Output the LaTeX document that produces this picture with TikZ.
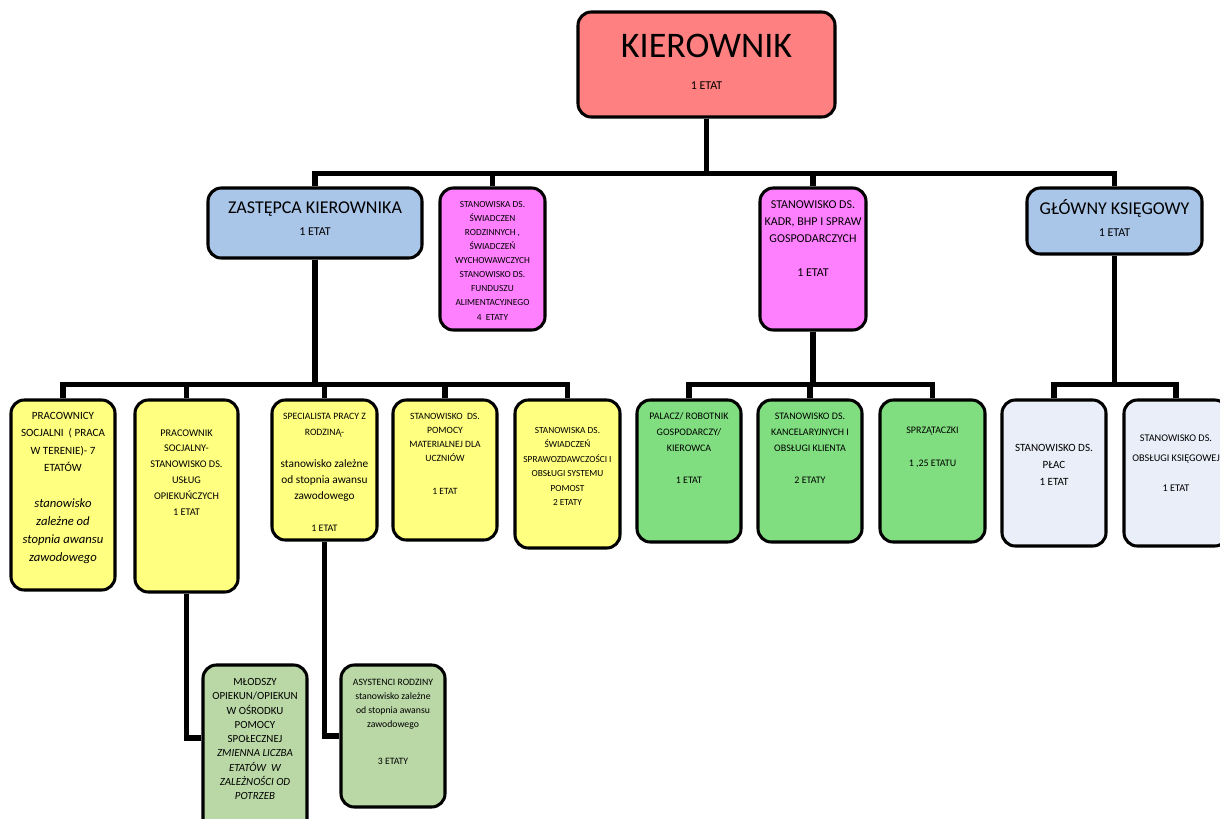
\documentclass[tikz,border=0pt]{standalone}
\usepackage{fontspec}
\setmainfont{Carlito}
\usepackage{tikz}

\definecolor{kierred}{RGB}{255,128,128}
\definecolor{boxblue}{RGB}{169,197,232}
\definecolor{boxpink}{RGB}{255,128,255}
\definecolor{boxyellow}{RGB}{255,255,128}
\definecolor{boxgreen}{RGB}{128,222,128}
\definecolor{boxgrey}{RGB}{234,238,248}
\definecolor{boxolive}{RGB}{186,216,166}

\newcommand\setfs[2]{\fontsize{#1}{#2}\selectfont}
\newcommand\orgcell[4]{\parbox[c][\dimexpr#2pt*3/4\relax][t]{\dimexpr#1pt*3/4\relax}{\centering\vspace*{\dimexpr#3pt*3/4\relax}#4\par}}

\begin{document}
\begin{tikzpicture}[x=0.75pt,y=-0.75pt,
    box/.style={draw=black,line width=2.3pt,rounded corners=10pt,inner sep=0pt},
    conn/.style={line width=4pt}]
\useasboundingbox (0,0) rectangle (1220,818);
\clip (0,0) rectangle (1220,818);

\node[box,fill=kierred] (kier) at (706.5,64.5) {\orgcell{257}{105}{22}{{\setfs{27}{30}KIEROWNIK\par}{\setfs{9}{24.2}1 ETAT\par}}};

\node[box,fill=boxblue] (zast) at (315,223) {\orgcell{214}{70}{14}{{\setfs{13.5}{16}ZASTĘPCA KIEROWNIKA\par}{\setfs{9}{16.5}1 ETAT\par}}};
\node[box,fill=boxpink] (swiad) at (492.5,259) {\orgcell{105}{142}{13}{\setfs{7}{10.6}STANOWISKA DS.\\ ŚWIADCZEN\\ RODZINNYCH ,\\ ŚWIADCZEŃ\\ WYCHOWAWCZYCH\\ STANOWISKO DS.\\ FUNDUSZU\\ ALIMENTACYJNEGO\\ 4\ \ ETATY}};
\node[box,fill=boxpink] (kadr) at (813,259) {\orgcell{106}{142}{13}{\setfs{9}{12.75}STANOWISKO DS.\\ KADR, BHP I SPRAW\\ GOSPODARCZYCH\\[12.75pt] 1 ETAT}};
\node[box,fill=boxblue] (ksieg) at (1114.5,221) {\orgcell{175}{66}{11}{{\setfs{13.5}{16}GŁÓWNY KSIĘGOWY\par}{\setfs{9}{16.5}1 ETAT\par}}};

\node[box,fill=boxyellow] (prac) at (63,495) {\orgcell{104}{190}{12}{{\setfs{8.3}{13.1}PRACOWNICY\\ SOCJALNI\ \ ( PRACA\\ W TERENIE)- 7\\ ETATÓW\par}\vspace{13.5pt}{\itshape\setfs{9.5}{13.5}stanowisko\\ zależne od\\ stopnia awansu\\ zawodowego\par}}};
\node[box,fill=boxyellow] (opiek) at (186.5,496) {\orgcell{103}{192}{29.5}{\setfs{7.7}{11.85}PRACOWNIK\\ SOCJALNY-\\ STANOWISKO DS.\\ USŁUG\\ OPIEKUŃCZYCH\\ 1 ETAT}};
\node[box,fill=boxyellow] (spec) at (324.5,470) {\orgcell{105}{140}{13.5}{\setfs{7.3}{12}SPECIALISTA PRACY Z\\ RODZINĄ-\\[12pt] {\setfs{8.5}{12}stanowisko zależne\\ od stopnia awansu\\ zawodowego\\[12pt] }{\setfs{7.5}{12}1 ETAT}}};
\node[box,fill=boxyellow] (uczn) at (445,470) {\orgcell{104}{140}{13.5}{\setfs{7.2}{10.5}STANOWISKO\ \ DS.\\ POMOCY\\ MATERIALNEJ DLA\\ UCZNIÓW\\[14.25pt] 1 ETAT}};
\node[box,fill=boxyellow] (pomost) at (567.5,474) {\orgcell{105}{148}{27}{\setfs{7}{10.9}STANOWISKA DS.\\ ŚWIADCZEŃ\\ SPRAWOZDAWCZOŚCI I\\ OBSŁUGI SYSTEMU\\ POMOST\\ 2 ETATY}};

\node[box,fill=boxgreen] (palacz) at (689,471) {\orgcell{104}{142}{12.8}{\setfs{7.5}{12}PALACZ/ ROBOTNIK\\ GOSPODARCZY/\\ KIEROWCA\\[12pt] 1 ETAT}};
\node[box,fill=boxgreen] (kanc) at (810,471) {\orgcell{104}{142}{12.8}{\setfs{7.5}{12}STANOWISKO DS.\\ KANCELARYJNYCH I\\ OBSŁUGI KLIENTA\\[12pt] 2 ETATY}};
\node[box,fill=boxgreen] (sprz) at (932.5,471) {\orgcell{105}{142}{26.8}{\setfs{7.5}{12.4}SPRZĄTACZKI\\[12.4pt] 1 ,25 ETATU}};

\node[box,fill=boxgrey] (placy) at (1054,473) {\orgcell{104}{146}{44}{\setfs{8.3}{12.75}STANOWISKO DS.\\ PŁAC\\ 1 ETAT}};
\node[box,fill=boxgrey] (obsl) at (1176,473) {\orgcell{104}{146}{34.5}{\setfs{7.7}{11.25}STANOWISKO DS.\\[3.75pt] OBSŁUGI KSIĘGOWEJ\\[11.25pt] 1 ETAT}};

\node[box,fill=boxolive] (mlod) at (255,750) {\orgcell{104}{170}{13.5}{\setfs{8.2}{10.7}MŁODSZY\\ OPIEKUN/OPIEKUN\\ W OŚRODKU\\ POMOCY\\ SPOŁECZNEJ\\ \itshape ZMIENNA LICZBA\\ ETATÓW\ \ W\\ ZALEŻNOŚCI OD\\ POTRZEB}};
\node[box,fill=boxolive] (asys) at (393,736) {\orgcell{104}{142}{14}{\setfs{7.3}{10.5}ASYSTENCI RODZINY\\ stanowisko zależne\\ od stopnia awansu\\ zawodowego\\[17.25pt] 3 ETATY}};

\draw[conn] (kier.south) -- ++(0,55) -| (zast.north);
\draw[conn] (kier.south) -- ++(0,55) -| (swiad.north);
\draw[conn] (kier.south) -- ++(0,55) -| (kadr.north);
\draw[conn] (kier.south) -- ++(0,55) -| (ksieg.north);

\draw[conn] (zast.south) -- ++(0,125) -| (prac.north);
\draw[conn] (zast.south) -- ++(0,125) -| (opiek.north);
\draw[conn] (zast.south) -- ++(0,125) -| (spec.north);
\draw[conn] (zast.south) -- ++(0,125) -| (uczn.north);
\draw[conn] (zast.south) -- ++(0,125) -| (pomost.north);

\draw[conn] (kadr.south) -- ++(0,53) -| (palacz.north);
\draw[conn] (kadr.south) -- ++(0,53) -| (kanc.north);
\draw[conn] (kadr.south) -- ++(0,53) -| (sprz.north);

\draw[conn] (ksieg.south) -- ++(0,129) -| (placy.north);
\draw[conn] (ksieg.south) -- ++(0,129) -| (obsl.north);

\draw[conn] (opiek.south) |- ([yshift=9pt]mlod.west);
\draw[conn] (spec.south) |- (asys.west);
\end{tikzpicture}
\end{document}
